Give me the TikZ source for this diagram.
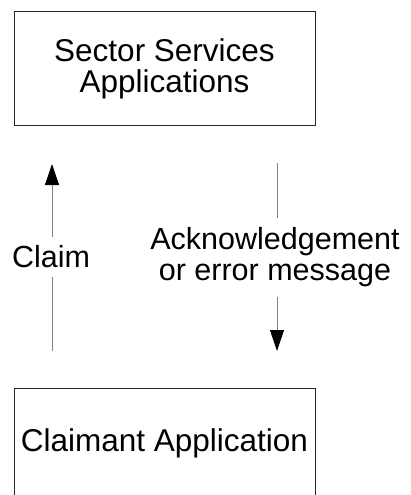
\documentclass[tikz,border=0pt]{standalone}
\usepackage{fontspec}
\setmainfont{Liberation Sans}
\usetikzlibrary{arrows.meta}

\tikzset{
  appbox/.style={rectangle, draw=black!85, line width=1pt, minimum width=301pt, align=center, inner sep=0pt, font=\fontsize{31.5}{31}\selectfont},
  msgline/.style={draw=black!50, line width=1pt},
  msgarrow/.style={msgline, -{Triangle[length=21pt, width=14pt, color=black]}},
  msglabel/.style={align=center, inner sep=0pt, font=\fontsize{30.5}{31}\selectfont}
}

\begin{document}
\begin{tikzpicture}[x=1pt, y=-1pt]

  \useasboundingbox (0,0) rectangle (411,495);
  \clip (0,0) rectangle (411,495);

  % Applications
  \node[appbox, minimum height=113pt] (sector) at (164.5,68.5) {Sector Services\\Applications};
  \node[appbox, minimum height=110pt] (claimant) at (164.5,443) {Claimant Application};

  % Message labels
  \node[msglabel, minimum height=40pt] (claim) at (51,257) {Claim};
  \node[msglabel, minimum height=79pt] (ack) at (275,257.5) {Acknowledgement\\or error message};

  % Ends of the connectors
  \coordinate (claimfoot) at (52,351);
  \coordinate (claimtip) at (52,164);
  \coordinate (acktop) at (277,163);
  \coordinate (acktip) at (277,351);

  % Connections
  \draw[msgline] (claimfoot) -- (claimfoot |- claim.south);
  \draw[msgarrow] (claimtip |- claim.north) -- (claimtip);
  \draw[msgline] (acktop) -- (acktop |- ack.north);
  \draw[msgarrow] (acktip |- ack.south) -- (acktip);

\end{tikzpicture}
\end{document}
